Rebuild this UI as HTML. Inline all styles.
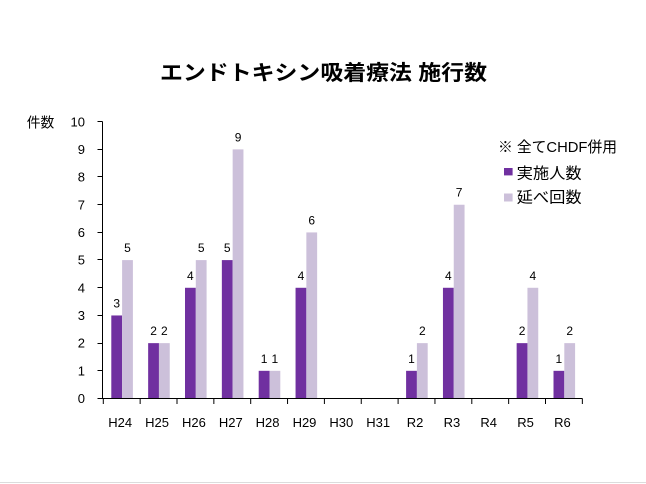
<!DOCTYPE html>
<html>
<head>
<meta charset="utf-8">
<style>
html,body{margin:0;padding:0;background:#fff;}
body{width:646px;height:484px;overflow:hidden;}
svg{display:block;}
text{font-family:"Liberation Sans","Noto Sans CJK JP",sans-serif;fill:#000;}
.cjk{font-family:"Liberation Sans","Noto Sans CJK JP",sans-serif;}
.yl{font-size:13px;text-anchor:end;}
.xl{font-size:13px;text-anchor:middle;}
.dl{font-size:12px;text-anchor:middle;}
</style>
</head>
<body>
<svg width="646" height="484" viewBox="0 0 646 484" xmlns="http://www.w3.org/2000/svg">
<rect x="0" y="0" width="646" height="484" fill="#ffffff"/>
<line x1="0" y1="482.5" x2="646" y2="482.5" stroke="#dcdcdc" stroke-width="1"/>

<!-- Title -->
<text class="cjk" x="160" y="80" font-size="21" font-weight="bold" textLength="327" lengthAdjust="spacingAndGlyphs">エンドトキシン吸着療法 施行数</text>

<!-- Y axis title -->
<text class="cjk" x="26.7" y="127.7" font-size="14" textLength="27.6" lengthAdjust="spacingAndGlyphs">件数</text>

<!-- Bars: purple -->
<g fill="#7030A0">
<rect x="111.3" y="315.46" width="10.8" height="83.04"/>
<rect x="148.15" y="343.14" width="10.8" height="55.36"/>
<rect x="185.0" y="287.78" width="10.8" height="110.72"/>
<rect x="221.85" y="260.1" width="10.8" height="138.4"/>
<rect x="258.7" y="370.82" width="10.8" height="27.68"/>
<rect x="295.55" y="287.78" width="10.8" height="110.72"/>
<rect x="406.1" y="370.82" width="10.8" height="27.68"/>
<rect x="442.95" y="287.78" width="10.8" height="110.72"/>
<rect x="516.65" y="343.14" width="10.8" height="55.36"/>
<rect x="553.5" y="370.82" width="10.8" height="27.68"/>
</g>
<!-- Bars: lavender -->
<g fill="#CCC0DA">
<rect x="122.1" y="260.1" width="10.8" height="138.4"/>
<rect x="158.95" y="343.14" width="10.8" height="55.36"/>
<rect x="195.8" y="260.1" width="10.8" height="138.4"/>
<rect x="232.65" y="149.38" width="10.8" height="249.12"/>
<rect x="269.5" y="370.82" width="10.8" height="27.68"/>
<rect x="306.35" y="232.42" width="10.8" height="166.08"/>
<rect x="416.9" y="343.14" width="10.8" height="55.36"/>
<rect x="453.75" y="204.74" width="10.8" height="193.76"/>
<rect x="527.45" y="287.78" width="10.8" height="110.72"/>
<rect x="564.3" y="343.14" width="10.8" height="55.36"/>
</g>

<!-- Data labels -->
<g>
<text class="dl" x="116.7" y="307.5">3</text>
<text class="dl" x="127.5" y="252.1">5</text>
<text class="dl" x="153.55" y="335.1">2</text>
<text class="dl" x="164.35" y="335.1">2</text>
<text class="dl" x="190.4" y="279.8">4</text>
<text class="dl" x="201.2" y="252.1">5</text>
<text class="dl" x="227.25" y="252.1">5</text>
<text class="dl" x="238.05" y="141.4">9</text>
<text class="dl" x="264.1" y="362.8">1</text>
<text class="dl" x="274.9" y="362.8">1</text>
<text class="dl" x="300.95" y="279.8">4</text>
<text class="dl" x="311.75" y="224.4">6</text>
<text class="dl" x="411.5" y="362.8">1</text>
<text class="dl" x="422.3" y="335.1">2</text>
<text class="dl" x="448.35" y="279.8">4</text>
<text class="dl" x="459.15" y="196.7">7</text>
<text class="dl" x="522.05" y="335.1">2</text>
<text class="dl" x="532.85" y="279.8">4</text>
<text class="dl" x="558.9" y="362.8">1</text>
<text class="dl" x="569.7" y="335.1">2</text>
</g>

<!-- Axes -->
<g stroke="#000" stroke-width="1" fill="none">
<line x1="102.5" y1="121.5" x2="102.5" y2="399"/>
<line x1="97.5" y1="398.5" x2="582.5" y2="398.5"/>
<!-- y ticks -->
<line x1="97.5" y1="121.5" x2="102.5" y2="121.5"/>
<line x1="97.5" y1="149.5" x2="102.5" y2="149.5"/>
<line x1="97.5" y1="176.5" x2="102.5" y2="176.5"/>
<line x1="97.5" y1="204.5" x2="102.5" y2="204.5"/>
<line x1="97.5" y1="232.5" x2="102.5" y2="232.5"/>
<line x1="97.5" y1="259.5" x2="102.5" y2="259.5"/>
<line x1="97.5" y1="287.5" x2="102.5" y2="287.5"/>
<line x1="97.5" y1="315.5" x2="102.5" y2="315.5"/>
<line x1="97.5" y1="343.5" x2="102.5" y2="343.5"/>
<line x1="97.5" y1="370.5" x2="102.5" y2="370.5"/>
<!-- x ticks -->
<line x1="103.3" y1="398.5" x2="103.3" y2="404"/>
<line x1="140.15" y1="398.5" x2="140.15" y2="404"/>
<line x1="177.0" y1="398.5" x2="177.0" y2="404"/>
<line x1="213.85" y1="398.5" x2="213.85" y2="404"/>
<line x1="250.7" y1="398.5" x2="250.7" y2="404"/>
<line x1="287.55" y1="398.5" x2="287.55" y2="404"/>
<line x1="324.4" y1="398.5" x2="324.4" y2="404"/>
<line x1="361.25" y1="398.5" x2="361.25" y2="404"/>
<line x1="398.1" y1="398.5" x2="398.1" y2="404"/>
<line x1="434.95" y1="398.5" x2="434.95" y2="404"/>
<line x1="471.8" y1="398.5" x2="471.8" y2="404"/>
<line x1="508.65" y1="398.5" x2="508.65" y2="404"/>
<line x1="545.5" y1="398.5" x2="545.5" y2="404"/>
<line x1="582.35" y1="398.5" x2="582.35" y2="404"/>
</g>

<!-- Y labels -->
<text class="yl" x="85" y="126.3">10</text>
<text class="yl" x="85" y="154">9</text>
<text class="yl" x="85" y="181.7">8</text>
<text class="yl" x="85" y="209.3">7</text>
<text class="yl" x="85" y="237">6</text>
<text class="yl" x="85" y="264.7">5</text>
<text class="yl" x="85" y="292.4">4</text>
<text class="yl" x="85" y="320.1">3</text>
<text class="yl" x="85" y="347.7">2</text>
<text class="yl" x="85" y="375.4">1</text>
<text class="yl" x="85" y="403.1">0</text>

<!-- X labels -->
<text class="xl" x="120.2" y="427">H24</text>
<text class="xl" x="157.1" y="427">H25</text>
<text class="xl" x="193.9" y="427">H26</text>
<text class="xl" x="230.8" y="427">H27</text>
<text class="xl" x="267.6" y="427">H28</text>
<text class="xl" x="304.5" y="427">H29</text>
<text class="xl" x="341.3" y="427">H30</text>
<text class="xl" x="378.2" y="427">H31</text>
<text class="xl" x="415.0" y="427">R2</text>
<text class="xl" x="451.9" y="427">R3</text>
<text class="xl" x="488.7" y="427">R4</text>
<text class="xl" x="525.6" y="427">R5</text>
<text class="xl" x="562.4" y="427">R6</text>

<!-- Legend -->
<text class="cjk" x="498" y="152" font-size="15" textLength="119" lengthAdjust="spacingAndGlyphs">※ 全てCHDF併用</text>
<rect x="504" y="168" width="8.6" height="7.4" fill="#7030A0"/>
<text class="cjk" x="516.7" y="178.3" font-size="15.5" textLength="65" lengthAdjust="spacingAndGlyphs">実施人数</text>
<rect x="504" y="193.5" width="8.6" height="8" fill="#CCC0DA"/>
<text class="cjk" x="516.7" y="202.3" font-size="15.5" textLength="65" lengthAdjust="spacingAndGlyphs">延べ回数</text>
</svg>
</body>
</html>
